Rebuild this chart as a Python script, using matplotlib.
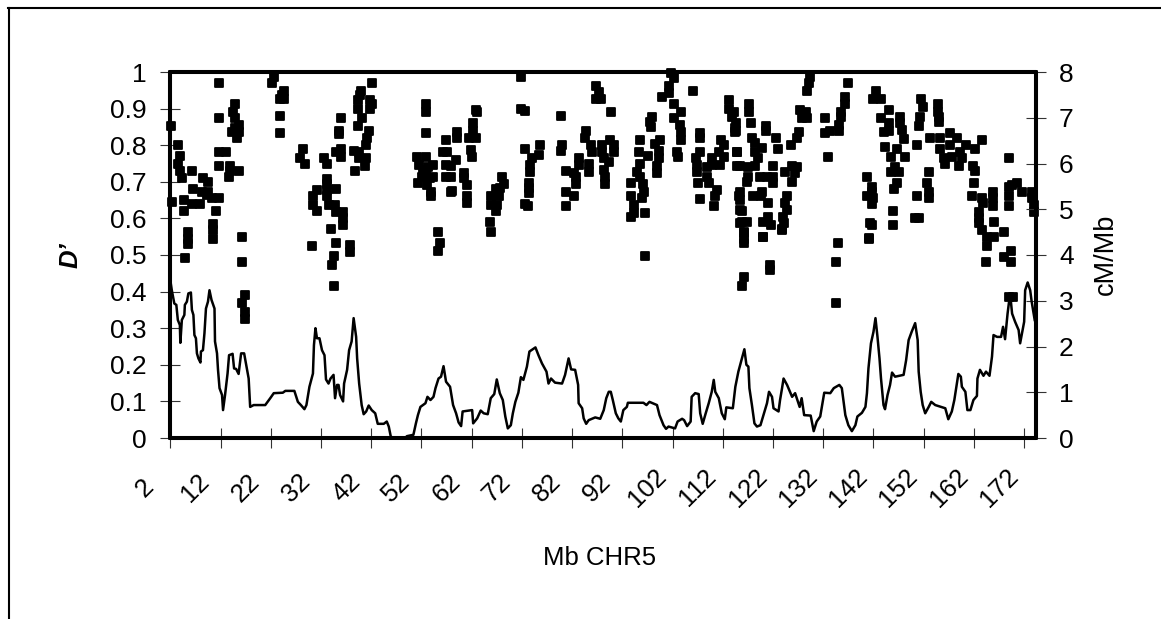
import matplotlib
matplotlib.use("Agg")
import matplotlib.pyplot as plt
from matplotlib.lines import Line2D
from matplotlib.markers import MarkerStyle
from matplotlib.transforms import ScaledTranslation
import numpy as np

plt.rcParams['font.family'] = ['Liberation Sans', 'DejaVu Sans']

# D' per marker pair (Mb, D')
ld_chunk_1 = [(2.1,.853),(3.6,.80),(3.9,.77),(3.6,.75),(4.0,.73),(4.3,.71),(6.3,.73),(8.5,.71),(9.6,.70),(6.6,.68),
 (8.3,.673),(9.6,.673),(2.3,.646),(4.7,.65),(4.7,.62),(6.3,.64),(8.0,.64),(10.3,.655),(11.6,.655),(11.0,.62),(9.3,.664),
 (5.6,.564),(5.6,.545),(5.6,.53),(10.6,.586),(10.6,.568),(10.6,.544),(16.3,.55),(5.0,.493),(11.6,.97),(11.6,.873),
 (11.6,.782),(13.0,.782),(11.6,.743),(13.8,.743),(15.6,.73),(13.6,.714),(13.8,.73),(14.9,.913),(14.4,.892),(14.9,.873),
 (15.6,.855),(14.3,.837),(15.6,.837),(15.3,.819),(14.9,.846),(16.3,.48),(16.8,.39),(16.3,.37),(16.8,.345),(16.8,.325),
 (22.7,.987),(22.2,.97),(24.6,.949),(23.9,.925),(24.6,.925),(23.8,.88),(23.8,.834),(24.2,.937)]
ld_chunk_2 = [(28.4,.789),(27.9,.764),(28.9,.75),(32.7,.764),(33.2,.75),(33.2,.709),(33.2,.694),(31.2,.678),(33.2,.678),
 (35.0,.68),(30.5,.66),(33.2,.66),(30.5,.637),(31.2,.621),(33.5,.637),(34.8,.637),(35.0,.618),(36.4,.618),(36.4,.60),
 (36.4,.582),(34.0,.57),(30.3,.525),(34.9,.532),(37.8,.527),(37.8,.509),(34.5,.498),(34.1,.473),(34.5,.415),
 (35.9,.873),(35.5,.84),(35.5,.83),(35.0,.782),(36.0,.789),(36.0,.769),(38.5,.785),(39.5,.782),(39.5,.764),(41.0,.764),
 (40.7,.743),(38.8,.73),(40.0,.949),(39.3,.923),(41.7,.923),(42.1,.912),(39.3,.898),(41.7,.898),(40.2,.873),(39.3,.853),
 (41.5,.84),(41.2,.82),(41.0,.80),(42.1,.97),(39.7,.937)]
ld_chunk_3 = [(53.0,.912),(53.0,.892),(53.0,.834),(51.1,.769),(53.0,.769),(51.6,.746),(54.4,.746),(53.0,.728),(52.1,.714),
 (54.4,.714),(51.4,.698),(53.1,.691),(53.9,.673),(53.9,.66),(52.4,.732),(53.4,.741),(53.8,.71),(56.8,.814),(56.3,.782),
 (57.1,.782),(56.8,.746),(56.8,.712),(57.8,.673),(55.2,.564),(55.7,.532),(55.2,.512),(59.0,.837),(59.0,.819),(62.8,.896),
 (63.1,.892),(62.3,.86),(62.3,.84),(61.4,.819),(62.8,.819),(61.8,.787),(62.1,.769),(58.8,.76),(57.8,.743),(57.8,.714),
 (60.4,.723),(60.4,.71),(61.0,.691),(58.1,.676),(61.0,.66),(61.0,.641),(65.8,.564),(65.6,.589)]
ld_chunk_4 = [(71.9,.987),(71.9,.898),(72.7,.894),(72.7,.789),(75.7,.80),(75.4,.773),(74.1,.764),(73.6,.746),(73.6,.728),
 (73.4,.698),(73.4,.682),(73.4,.669),(72.7,.64),(73.2,.634),(68.0,.712),(68.4,.694),(66.8,.679),(67.7,.682),(65.8,.66),
 (67.4,.66),(65.8,.637),(67.1,.637),(66.8,.621),(79.7,.88),(80.0,.80),(79.7,.785),(80.7,.73),(82.3,.723),(83.3,.764),
 (83.3,.746),(82.7,.694),(82.7,.714),(80.7,.673),(82.3,.66),(80.7,.635),(85.3,.75),(85.3,.728),(84.8,.84),(84.5,.819),
 (85.7,.80),(86.0,.782),(88.0,.80),(88.0,.782),(89.6,.814),(90.3,.80),(90.3,.782),(88.3,.764),(89.3,.755),(88.3,.732),
 (88.6,.714),(88.6,.694),(86.8,.962),(87.3,.946),(86.7,.925),(87.7,.925),(89.8,.892)]
ld_chunk_5 = [(95.6,.814),(95.3,.782),(95.6,.75),(95.0,.728),(95.6,.714),(93.8,.696),(96.1,.694),(96.4,.673),(93.8,.661),
 (96.0,.655),(94.3,.637),(96.6,.616),(94.3,.616),(93.8,.603),(96.6,.497),(97.1,.77),(97.9,.878),(97.6,.864),(97.7,.85),
 (98.6,.803),(99.5,.814),(99.3,.785),(99.3,.764),(98.9,.743),(98.9,.723),(101.7,.996),(102.3,.983),(101.3,.962),
 (101.3,.942),(99.9,.931),(102.3,.913),(103.7,.892),(102.3,.873),(103.4,.855),(103.7,.837),(103.7,.814),(102.8,.782),
 (103.0,.769),(106.0,.949),(107.4,.832),(107.4,.819),(107.4,.782),(106.6,.764),(106.9,.746),(106.9,.728),(107.0,.698),
 (108.9,.714),(109.2,.696),(108.9,.741),(109.9,.764),(111.2,.782),(112.2,.769),(109.9,.746),(111.5,.746),(111.7,.814),
 (112.2,.80),(107.4,.653),(110.9,.677),(110.5,.661),(110.2,.635)]
ld_chunk_6 = [(113.3,.923),(113.2,.898),(113.9,.878),(114.5,.846),(114.5,.837),(114.9,.782),(114.9,.743),(115.2,.66),
 (115.5,.623),(115.5,.587),(116.3,.559),(116.3,.532),(120.0,.55),(121.4,.473),(121.4,.459),(116.3,.441),(115.8,.415),
 (123.8,.571),(114.2,.892),(114.7,.86),(114.7,.84),(114.8,.782),(115.4,.743),(117.3,.912),(117.3,.892),(117.7,.86),
 (117.8,.819),(118.5,.805),(118.5,.782),(119.8,.791),(119.1,.764),(118.5,.743),(117.0,.741),(117.1,.714),(116.8,.70),
 (120.6,.852),(120.6,.84),(122.5,.819),(122.9,.789),(121.9,.743),(119.5,.712),(120.9,.712),(121.9,.712),(121.9,.698),
 (119.9,.673),(118.1,.661),(119.6,.661),(121.1,.641),(115.4,.673),(115.4,.65),(115.8,.621),(115.8,.59),(116.8,.59),
 (116.3,.564),(116.3,.545),(121.1,.605),(120.1,.59),(121.5,.582),(120.1,.55)]
ld_chunk_7 = [(124.8,.661),(124.4,.641),(124.8,.623),(124.0,.605),(124.1,.587),(123.8,.568),(125.8,.70),(124.4,.728),
 (125.8,.743),(126.8,.741),(126.4,.723),(125.6,.80),(126.8,.819),(127.1,.837),(127.8,.873),(128.8,.873),(127.4,.896),
 (128.6,.892),(128.8,.949),(129.1,.969),(129.4,.985),(132.3,.873),(132.3,.834),(133.4,.84),(135.1,.84),(135.1,.855),
 (135.6,.878),(135.6,.892),(136.4,.912),(136.3,.931),(136.9,.969),(132.9,.769),(135.0,.532),(134.6,.482),(134.6,.37),
 (140.7,.712),(141.7,.687),(141.7,.673),(140.7,.661),(142.0,.655),(141.7,.639),(141.4,.587),(141.7,.582),(141.2,.544),
 (142.6,.949),(142.0,.925),(143.4,.925),(145.0,.896),(143.5,.873),(145.0,.86),(147.3,.878),(147.3,.86),(147.7,.842),
 (144.0,.837),(145.0,.84),(148.0,.816),(144.2,.796),(146.7,.789),(145.5,.769),(148.3,.769),(146.3,.741),(145.5,.726),
 (147.0,.728),(146.7,.698),(146.0,.679),(145.9,.621),(145.9,.582),(141.2,.546)]
ld_chunk_8 = [(151.5,.925),(151.9,.905),(151.3,.878),(151.0,.853),(154.8,.912),(154.8,.892),(155.0,.864),(155.0,.878),
 (150.7,.80),(153.3,.82),(155.3,.819),(157.2,.834),(158.6,.82),(160.5,.80),(162.3,.789),(163.7,.814),(155.3,.789),
 (157.3,.80),(157.6,.769),(156.0,.764),(156.3,.75),(159.3,.782),(159.6,.764),(159.0,.743),(161.9,.743),(162.3,.73),
 (168.9,.764),(153.0,.728),(152.7,.696),(153.0,.673),(153.0,.655),(150.7,.661),(150.3,.602),(151.0,.602),(162.1,.696),
 (161.6,.66),(163.6,.655),(163.9,.641),(165.7,.673),(165.7,.655),(165.7,.635),(163.0,.618),(163.0,.60),(163.0,.587),
 (163.6,.568),(165.9,.591),(164.6,.55),(164.6,.525),(165.9,.55),(167.9,.564),(168.9,.687),(168.9,.66),(168.9,.635),
 (169.6,.691),(170.6,.698),(171.6,.673),(173.6,.673),(173.6,.655),(173.9,.637),(173.9,.618),(169.4,.511),(167.9,.494),
 (169.4,.48),(164.4,.48),(169.0,.384),(169.7,.384)]

# recombination rate (Mb, cM/Mb)
rate_left = [(2.0,3.45),(2.3,3.23),(2.8,2.94),(3.2,2.91),(3.5,2.58),(3.9,2.47),(4.0,2.08),(4.3,2.58),(4.8,2.69),(4.9,2.91),
 (5.3,2.98),(5.6,3.16),(6.1,3.18),(6.3,2.80),(6.6,2.69),(6.8,2.25),(7.1,2.18),(7.3,1.85),(7.6,1.74),(8.0,1.65),(8.1,1.89),
 (8.5,1.92),(8.8,2.29),(9.1,2.83),(9.5,2.98),(9.8,3.23),(10.2,3.02),(10.8,2.83),(10.9,2.11),(11.3,1.85),(11.5,1.49),
 (11.8,1.09),(12.3,.94),(12.5,.61),(12.9,.94),(13.4,1.41),(13.7,1.81),(14.4,1.84),(14.7,1.52),(15.1,1.51),(15.6,1.40),
 (16.1,1.85),(16.7,1.85),(17.1,1.60),(17.6,1.30),(17.9,.68),(18.6,.72),(20.9,.72),(21.9,.87),(22.6,.98),(24.4,.99),
 (24.9,1.03),(26.7,1.03),(27.4,.79),(28.0,.72),(28.7,.63),(29.1,.72),(29.7,1.12),(30.4,1.41),(30.6,2.03),(30.9,2.40),
 (31.2,2.18),(31.7,2.18),(32.2,1.92),(32.7,1.81),(33.0,1.28),(33.5,1.19),(33.9,1.30),(34.5,1.38),(34.8,.87),(35.2,1.16),
 (35.5,1.16),(35.8,.94),(36.4,.80),(36.6,1.19),(37.2,1.49),(37.6,1.92),(38.1,2.11),(38.5,2.62),(39.0,2.21),(39.2,1.74),
 (39.6,1.19),(40.1,.72),(40.5,.52),(41.0,.58),(41.5,.71),(42.1,.61),(42.8,.54),(43.3,.31),(44.5,.31),(45.1,.36),(45.5,.25),
 (45.9,.03),(46.5,0),(48.8,0),(49.1,.04),(50.4,.07),(50.9,.32),(51.3,.50),(51.8,.68),(52.8,.76),(53.2,.90),(53.8,.83),
 (54.4,.90),(54.8,1.09),(55.4,1.30),(55.9,1.34),(56.4,1.57),(56.9,1.23),(57.7,1.12),(58.3,.72),(58.9,.54),(59.4,.34),
 (59.9,.26),(60.2,.58),(62.1,.61),(62.3,.32),(63.1,.43),(63.8,.60),(64.4,.54),(65.2,.52),(65.8,.87),(66.5,.96),(67.0,1.28),
 (67.6,.98),(68.2,.83),(68.7,.47),(69.2,.21),(69.8,.28),(70.2,.54),(70.7,.79),(71.3,.99),(71.8,1.33),(72.3,1.27),(73.0,1.56),
 (73.5,1.89),(74.7,1.98),(75.3,1.81),(76.0,1.63),(76.9,1.45),(77.3,1.19),(77.8,1.30),(78.6,1.21),(80.0,1.19),(80.6,1.38),
 (81.3,1.74),(81.8,1.50),(82.6,1.49),(83.2,1.16),(83.3,.76),(84.0,.65),(84.3,.43),(84.8,.31),(85.3,.39),(86.6,.45),(87.6,.42)]
rate_right = [(88.3,.61),(88.8,.87),(89.3,1.01),(89.7,1.01),(90.1,.83),(90.7,.54),(91.2,.43),(91.7,.36),(92.2,.61),(92.9,.68),
 (93.1,.77),(96.2,.77),(96.8,.72),(97.4,.79),(98.9,.72),(99.4,.50),(100.2,.28),(100.7,.20),(101.2,.25),(102.5,.21),(103.0,.36),
 (103.9,.42),(104.3,.39),(104.9,.26),(105.6,.36),(105.8,.90),(106.5,.98),(107.2,.96),(107.5,.54),(108.0,.31),(108.6,.54),
 (109.2,.76),(109.8,1.01),(110.2,1.27),(110.5,1.01),(111.2,.87),(111.8,.54),(112.4,.41),(112.7,.67),(114.0,.65),(114.5,1.12),
 (115.1,1.45),(115.8,1.74),(116.3,1.94),(116.7,1.60),(117.1,1.56),(117.3,1.09),(117.8,.72),(118.3,.32),(118.8,.25),(119.5,.28),
 (120.1,.50),(120.8,.76),(121.2,1.01),(121.8,.90),(122.1,.65),(123.1,.58),(123.4,.83),(123.8,1.09),(124.1,1.30),(124.8,1.16),
 (125.8,.90),(126.4,.98),(127.3,.68),(127.7,.87),(128.2,.50),(129.5,.49),(130.1,.15),(130.7,.36),(131.4,.47),(132.2,.99),
 (133.4,.98),(134.1,1.09),(135.2,1.16),(135.7,1.09),(136.4,.50),(137.0,.28),(137.7,.15),(138.4,.28),(138.8,.47),(139.7,.55),
 (140.4,.68),(140.7,.98),(141.0,1.52),(141.5,2.07),(142.0,2.32),(142.4,2.62),(142.8,2.21),(143.2,1.74),(143.5,1.30),(144.0,.72),
 (144.3,.63),(144.8,.94),(145.3,1.16),(145.7,1.43),(146.3,1.34),(148.0,1.38),(148.5,1.70),(149.0,2.14),(149.6,2.32),(150.3,2.51),
 (150.8,2.14),(151.0,1.45),(151.4,1.01),(151.8,.72),(152.3,.54),(153.0,.68),(153.5,.79),(154.3,.72),(156.3,.65),(156.9,.41),
 (157.6,.58),(158.1,.83),(158.5,1.12),(158.9,1.40),(159.4,1.34),(159.6,1.12),(160.3,1.01),(160.7,.61),(161.3,.61),(161.9,.83),
 (162.6,.92),(162.7,1.30),(163.2,1.49),(163.9,1.36),(164.4,1.45),(165.1,1.36),(165.6,1.78),(165.9,2.25),(166.6,2.21),(167.4,2.21),
 (167.8,2.43),(168.2,2.16),(168.7,2.72),(169.2,3.16),(169.6,2.72),(170.2,2.54),(170.9,2.36),(171.2,2.07),(172.0,2.54),(172.2,3.23),
 (172.7,3.40),(173.2,3.23),(173.5,2.98),(174.1,2.58)]

mb_ticks = list(range(2, 173, 10))
d_ticks = [0, 0.1, 0.2, 0.3, 0.4, 0.5, 0.6, 0.7, 0.8, 0.9, 1]
d_labels = ['0', '0.1', '0.2', '0.3', '0.4', '0.5', '0.6', '0.7', '0.8', '0.9', '1']
rate_ticks = list(range(0, 9))

ld = np.array(ld_chunk_1 + ld_chunk_2 + ld_chunk_3 + ld_chunk_4 + ld_chunk_5 + ld_chunk_6 + ld_chunk_7 + ld_chunk_8)
rate = np.array(rate_left + rate_right)

W, H = 1161, 619
fig = plt.figure(figsize=(W / 100, H / 100), dpi=100)
ax = fig.add_axes([170.3 / W, 1 - 438 / H, (1035.7 - 170.3) / W, (438 - 72) / H])
ax2 = ax.twinx()

marker = MarkerStyle('s', joinstyle='round')
ax.plot(ld[:, 0], ld[:, 1], linestyle='none', marker=marker, ms=5.7, mew=1.3, mfc='black', mec='black', clip_on=False, zorder=3)
ax2.plot(rate[:, 0], rate[:, 1], color='black', lw=1.8, clip_on=False, zorder=3)

ax.set_xlim(2, 174.3)
ax.set_ylim(0, 1)
ax2.set_ylim(0, 8)

ax.set_xticks(mb_ticks)
ax.set_xticklabels(mb_ticks, rotation=45, ha='center', va='center', rotation_mode='anchor', fontsize=18.5)
ax.set_yticks(d_ticks)
ax.set_yticklabels(d_labels, fontsize=19)
ax2.set_yticks(rate_ticks)
ax2.set_yticklabels(rate_ticks, fontsize=19)

ax.tick_params(axis='x', direction='inout', length=13.7, width=0.8, color='#333333', pad=0)
ax.tick_params(axis='y', direction='inout', length=13.7, width=0.8, color='#333333', pad=10)
ax2.tick_params(axis='y', direction='inout', length=13.7, width=0.8, color='#333333', pad=10)

# the x labels sit down and to the left of their ticks in the original
shift = ScaledTranslation(-18 / 72, -29 / 72, fig.dpi_scale_trans)
for lab in ax.get_xticklabels():
    lab.set_transform(lab.get_transform() + shift)

for a in (ax, ax2):
    for s in a.spines.values():
        s.set_linewidth(2.9)
        s.set_capstyle('round')

fig.text(600 / W, 1 - 558 / H, 'Mb CHR5', fontsize=18.5, ha='center', va='center')
fig.text(71 / W, 1 - 255 / H, 'D’', fontsize=18.5, style='italic', weight='bold', rotation=90, ha='center', va='center')
fig.text(1106 / W, 1 - 254 / H, 'cM/Mb', fontsize=19.5, rotation=90, ha='center', va='center')

# outer box, cut off by the page at right and bottom
fig.add_artist(Line2D([8.5 / W, 8.5 / W], [0, 1 - 8 / H], color='black', lw=1.5))
fig.add_artist(Line2D([8 / W, 1], [1 - 8 / H, 1 - 8 / H], color='black', lw=1.5))

fig.savefig('out.png', dpi=100)
